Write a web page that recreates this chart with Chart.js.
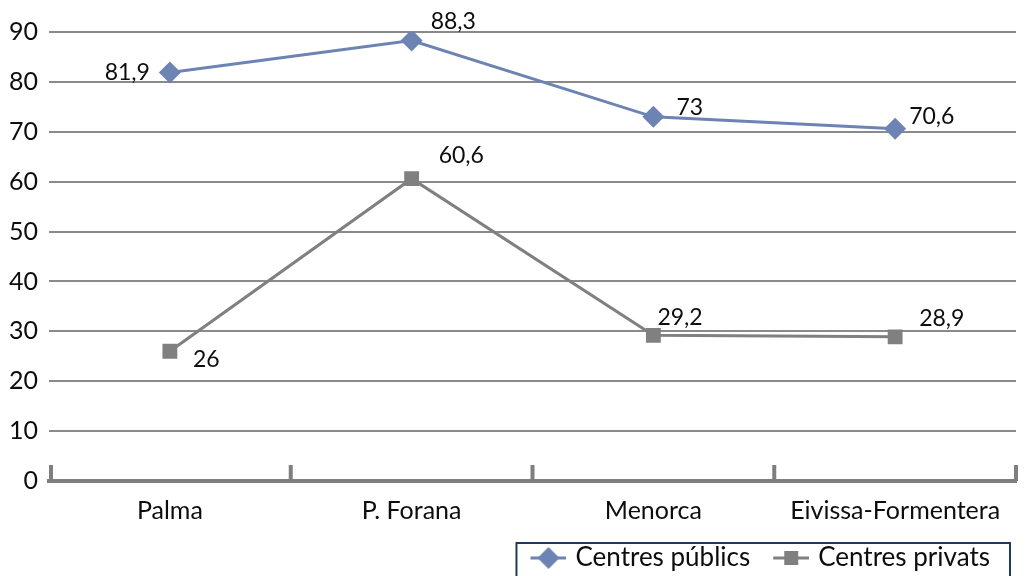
<!DOCTYPE html>
<html><head><meta charset="utf-8">
<script src="https://cdn.jsdelivr.net/npm/chart.js@4/dist/chart.umd.min.js"></script>
<style>html,body{margin:0;padding:0;background:#fff;overflow:hidden}#wrap{width:1027px;height:576px;position:relative}</style>
</head><body><div id="wrap"><canvas id="c" width="1027" height="576"></canvas></div>
<script>
const categories = ['Palma', 'P. Forana', 'Menorca', 'Eivissa-Formentera'];
const publicValues = [81.9, 88.3, 73, 70.6];
const privateValues = [26, 60.6, 29.2, 28.9];
const seriesNames = ['Centres públics', 'Centres privats'];
const yTickValues = [0, 10, 20, 30, 40, 50, 60, 70, 80, 90];

const FONT = 'Lato, "Open Sans", sans-serif';
const TEXT = '#0d0d0d';
const BLUE = '#6d83b3';
const GREY = '#808080';
const GRID = '#8a8a8a';

// label offsets (style only): [dx, dy, align]
const labelOffsets = [
  [[-20, 0, 'right'], [19, -19, 'left'], [23, -9, 'left'], [14, -12, 'left']],
  [[23, 8, 'left'], [27, -23, 'left'], [4, -18, 'left'], [24, -18, 'left']]
];

function fmt(v) { return String(v).replace('.', ','); }

// legend icon: transparent lead-in (gap between legend items) + line with marker
const ICON_LEAD = 19, ICON_W = 36;
function makeIcon(color, shape) {
  const c = document.createElement('canvas');
  c.width = ICON_LEAD + ICON_W; c.height = 24;
  const g = c.getContext('2d');
  g.translate(ICON_LEAD, 0);
  g.strokeStyle = color; g.lineWidth = 3;
  g.beginPath(); g.moveTo(0, 12); g.lineTo(ICON_W, 12); g.stroke();
  g.fillStyle = color;
  g.beginPath();
  if (shape === 'diamond') {
    g.moveTo(18, 1); g.lineTo(29, 12); g.lineTo(18, 23); g.lineTo(7, 12); g.closePath();
  } else {
    g.rect(11, 5, 14, 14);
  }
  g.fill();
  return c;
}
const legendIcons = [makeIcon(BLUE, 'diamond'), makeIcon(GREY, 'square')];

let xAxisHeight = 50;
const TARGET_BOTTOM = 481;
const LEGEND_RIGHT = 998;
const LEGEND_DROP = 5;

const legendShift = {
  id: 'legendShift',
  afterLayout(chart) {
    const lg = chart.legend;
    if (lg) { lg.right = LEGEND_RIGHT; lg.top += LEGEND_DROP; lg.bottom += LEGEND_DROP; }
  }
};

const boundaryTicks = {
  id: 'boundaryTicks',
  afterDraw(chart) {
    const ca = chart.chartArea, ctx = chart.ctx;
    const n = categories.length, step = (ca.right - ca.left) / n;
    ctx.save();
    ctx.strokeStyle = '#7f7f7f'; ctx.lineWidth = 4;
    for (let i = 0; i <= n; i++) {
      let x = ca.left + i * step;
      if (i === 0) x += 2;
      ctx.beginPath(); ctx.moveTo(x, ca.bottom - 16); ctx.lineTo(x, ca.bottom); ctx.stroke();
    }
    ctx.restore();
  }
};

const dataLabels = {
  id: 'dataLabels',
  afterDatasetsDraw(chart) {
    const ctx = chart.ctx;
    ctx.save();
    ctx.font = '23px ' + FONT;
    ctx.fillStyle = TEXT;
    ctx.textBaseline = 'middle';
    chart.data.datasets.forEach((ds, di) => {
      const meta = chart.getDatasetMeta(di);
      meta.data.forEach((pt, i) => {
        const o = labelOffsets[di][i];
        ctx.textAlign = o[2];
        ctx.fillText(fmt(ds.data[i]), pt.x + o[0], pt.y + o[1]);
      });
    });
    ctx.restore();
  }
};

const legendBorder = {
  id: 'legendBorder',
  afterDraw(chart) {
    const lg = chart.legend;
    const hb = lg && lg.legendHitBoxes;
    if (!hb || !hb.length) return;
    let l = Infinity, r = -Infinity;
    hb.forEach(b => { l = Math.min(l, b.left); r = Math.max(r, b.left + b.width); });
    const cy = hb[0].top + hb[0].height / 2;
    const ctx = chart.ctx;
    ctx.save();
    ctx.strokeStyle = '#1f3a5f'; ctx.lineWidth = 2;
    const left = l + 1;
    ctx.strokeRect(left, cy - 15, (r + 20) - left, 80);
    ctx.restore();
  }
};

const chart = new Chart(document.getElementById('c'), {
  type: 'line',
  data: {
    labels: categories,
    datasets: [
      { label: seriesNames[0], data: publicValues, borderColor: BLUE, backgroundColor: BLUE,
        borderWidth: 3, pointStyle: 'rectRot', pointRadius: 11, pointBorderWidth: 0,
        pointBackgroundColor: BLUE, tension: 0 },
      { label: seriesNames[1], data: privateValues, borderColor: GREY, backgroundColor: GREY,
        borderWidth: 3, pointStyle: 'rect', pointRadius: 10.5, pointBorderWidth: 0,
        pointBackgroundColor: GREY, tension: 0 }
    ]
  },
  options: {
    responsive: false,
    animation: false,
    layout: { padding: { top: 32, right: 0, left: 0, bottom: 0 } },
    scales: {
      x: {
        offset: true,
        grid: { display: false, drawTicks: false },
        border: { display: true, color: '#7f7f7f', width: 4 },
        ticks: { font: { family: FONT, size: 25 }, color: TEXT, padding: 15, maxRotation: 0, autoSkip: false },
        afterFit(s) { s.height = xAxisHeight; }
      },
      y: {
        min: 0, max: 90,
        afterBuildTicks(s) { s.ticks = yTickValues.map(v => ({ value: v })); },
        grid: { color: GRID, lineWidth: 2, drawTicks: false },
        border: { display: false },
        ticks: { font: { family: FONT, size: 25 }, color: TEXT, padding: 11 },
        afterFit(s) { s.width = 49; }
      }
    },
    plugins: {
      tooltip: { enabled: false },
      legend: {
        position: 'bottom', align: 'end',
        labels: {
          usePointStyle: true, pointStyleWidth: 47,
          font: { family: FONT, size: 26 }, color: TEXT, padding: 8,
          generateLabels(ch) {
            return ch.data.datasets.map((ds, i) => ({
              text: ds.label, pointStyle: legendIcons[i], fillStyle: ds.borderColor,
              strokeStyle: ds.borderColor, lineWidth: 0, hidden: false, datasetIndex: i, fontColor: TEXT
            }));
          }
        }
      }
    }
  },
  plugins: [legendShift, boundaryTicks, dataLabels, legendBorder]
});
const delta = chart.chartArea.bottom - TARGET_BOTTOM;
if (Math.abs(delta) > 0.5) { xAxisHeight += delta; chart.update('none'); }
</script>
</body></html>
